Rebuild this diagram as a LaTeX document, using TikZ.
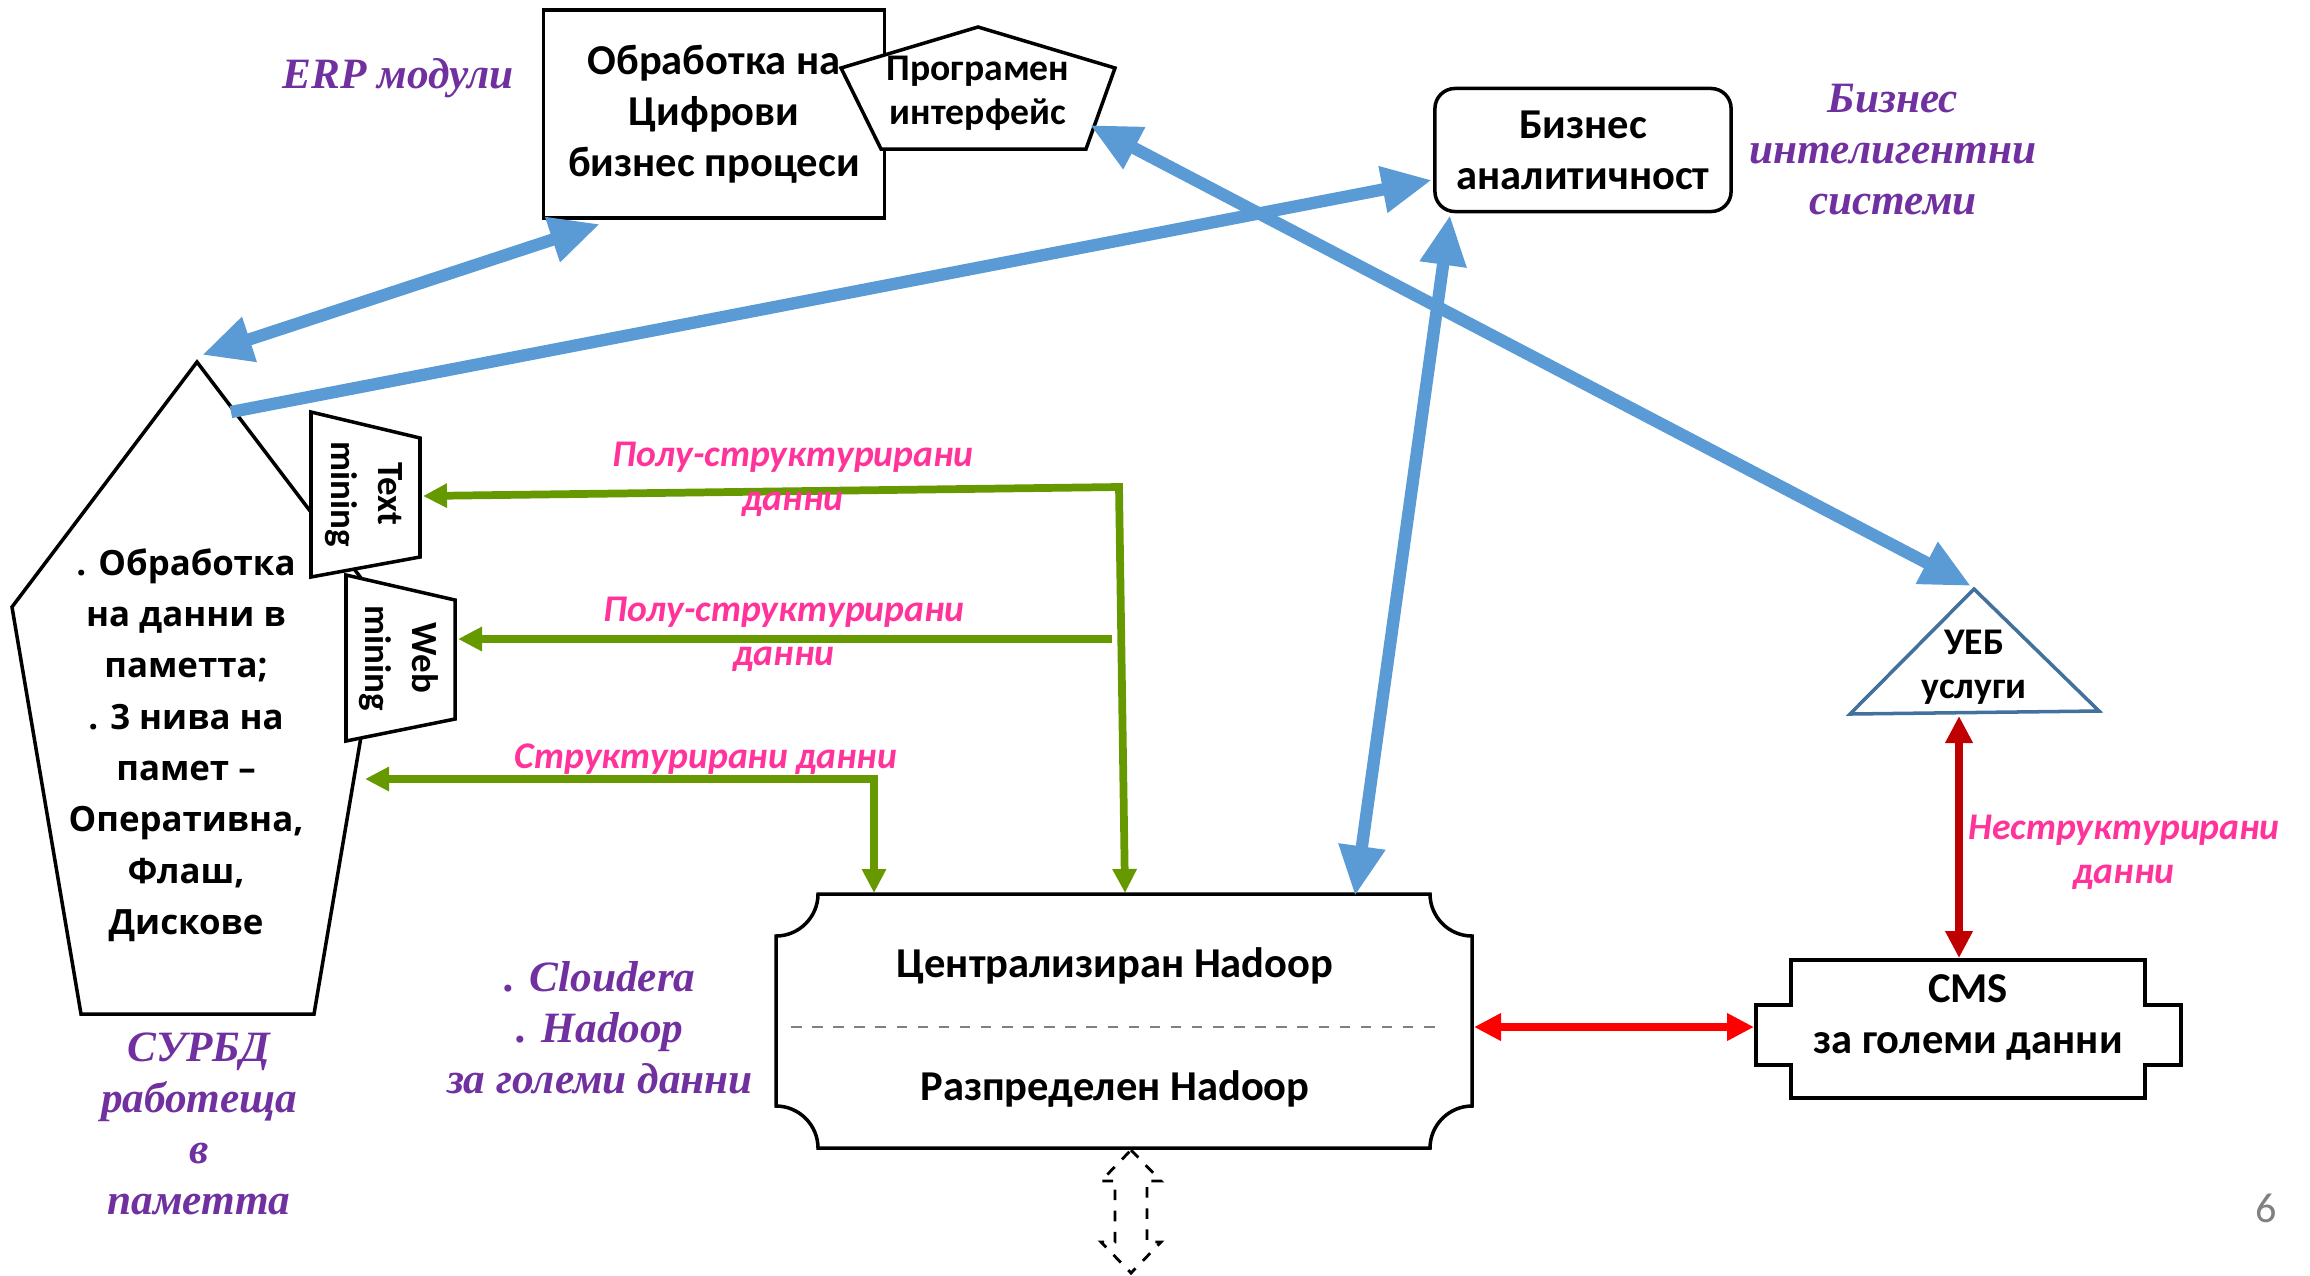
\documentclass[tikz,border=0pt]{standalone}
\usepackage{fontspec}
\setmainfont{Carlito}
\newfontfamily\romfont{Liberation Serif}
\newfontfamily\widefont{Open Sans}
\usetikzlibrary{arrows.meta}

\definecolor{bluearr}{RGB}{91,155,213}
\definecolor{greenarr}{RGB}{102,153,0}
\definecolor{pinktxt}{RGB}{255,51,153}
\definecolor{purpletxt}{RGB}{112,48,160}
\definecolor{darkred}{RGB}{192,0,0}
\definecolor{brightred}{RGB}{255,0,0}
\definecolor{triblue}{RGB}{65,113,156}

\tikzset{
  box/.style={draw, line width=1pt, fill=white, align=center, font=\bfseries\fontsize{12.1}{14.5}\selectfont},
  shapeline/.style={draw, line width=1pt, fill=white},
  boxtext/.style={align=center, font=\bfseries\fontsize{12.1}{14.5}\selectfont},
  purplenote/.style={text=purpletxt, align=center, font=\romfont\bfseries\itshape\fontsize{12.3}{14.5}\selectfont},
  pinknote/.style={text=pinktxt, align=center, font=\bfseries\itshape\fontsize{10.7}{12.5}\selectfont},
  bluearrow/.style={draw=bluearr, line width=3.5pt, arrows={-Triangle[length=5mm,width=4.4mm]}},
  blueboth/.style={bluearrow, arrows={Triangle[length=5mm,width=4.4mm]-Triangle[length=5mm,width=4.4mm]}},
  greenarrow/.style={draw=greenarr, line width=2.2pt, arrows={-Triangle[length=2.4mm,width=2.3mm]}},
  greenboth/.style={greenarrow, arrows={Triangle[length=2.4mm,width=2.3mm]-Triangle[length=2.4mm,width=2.3mm]}},
  redboth/.style={line width=2.3pt, arrows={Triangle[length=2.7mm,width=2.6mm]-Triangle[length=2.7mm,width=2.6mm]}}
}

\begin{document}
\begin{tikzpicture}[x=0.01cm,y=-0.01cm]
 \useasboundingbox (0,0) rectangle (2310,1275);

 % processing of business processes and API
 \node[box, minimum width=3.41cm, minimum height=2.08cm] (erp) at (714,114) {Обработка на\\Цифрови\\бизнес процеси};
 \draw[shapeline] (978,27) -- (1115,68) -- (1086,149) -- (881,149) -- (841,68) -- cycle;
 \node[boxtext, font=\bfseries\fontsize{10.7}{12.5}\selectfont] (api) at (978,93) {Програмен\\интерфейс};

 \node[box, rounded corners=0.2cm, minimum width=2.96cm, minimum height=1.23cm] (bia) at (1583,150) {Бизнес\\аналитичност};

 % in-memory DBMS
 \draw[shapeline] (197,362) -- (383,607) -- (314,1014) -- (81,1014) -- (12,607) -- cycle;
 \node[align=center, font=\widefont\bfseries\fontsize{9.9}{14.6}\selectfont] (srbd) at (186,745)
   {. Обработка\\на данни в\\паметта;\\. 3 нива на\\памет –\\Оперативна,\\Флаш,\\Дискове};
 \draw[shapeline] (311,412) -- (420,438) -- (420,557) -- (311,577) -- cycle;
 \node[boxtext, rotate=-90, font=\bfseries\fontsize{10.5}{13.4}\selectfont] (tm) at (364,494) {Text\\mining};
 \draw[shapeline] (346,575) -- (455,600) -- (455,719) -- (346,741) -- cycle;
 \node[boxtext, rotate=-90, font=\bfseries\fontsize{10.5}{13.4}\selectfont] (wm) at (399,658) {Web\\mining};

 % Hadoop
 \draw[shapeline] (818,894) -- (1430,894) .. controls (1430,917) and (1449,936) .. (1472,936)
   -- (1472,1106) .. controls (1449,1106) and (1430,1125) .. (1430,1148)
   -- (818,1148) .. controls (818,1125) and (799,1106) .. (776,1106)
   -- (776,936) .. controls (799,936) and (818,917) .. (818,894) -- cycle;
 \draw[gray, dashed, line width=0.6pt] (791,1027) -- (1436,1027);
 \node[boxtext] (hcentral) at (1115,966) {Централизиран Hadoop};
 \node[boxtext] (hdistrib) at (1115,1089) {Разпределен Hadoop};
 \draw[dashed, line width=0.8pt] (1131,1150) -- (1161,1181) -- (1147,1181) -- (1147,1242) -- (1161,1242)
   -- (1131,1273) -- (1101,1242) -- (1115,1242) -- (1115,1181) -- (1101,1181) -- cycle;

 % CMS and web services
 \draw[shapeline] (1791,960) -- (2145,960) -- (2145,1005) -- (2181,1005) -- (2181,1065) -- (2145,1065)
   -- (2145,1098) -- (1791,1098) -- (1791,1065) -- (1756,1065) -- (1756,1005) -- (1791,1005) -- cycle;
 \node[boxtext] (cms) at (1968,1017) {CMS\\за големи данни};
 \draw[triblue, line width=1pt, fill=white] (1974,589) -- (2099,711) -- (1850,714) -- cycle;
 \node[boxtext, font=\bfseries\fontsize{10.7}{12.5}\selectfont] (web) at (1974,667) {УЕБ\\услуги};

 % connector ends
 \coordinate (srbd-top) at (202,355);
 \coordinate (srbd-out) at (231,412);
 \coordinate (srbd-in) at (365,779);
 \coordinate (erp-in) at (600,224);
 \coordinate (api-in) at (1090,125);
 \coordinate (bia-in) at (1432,180);
 \coordinate (bia-b) at (1450,215);
 \coordinate (web-top) at (1971,586);
 \coordinate (web-b) at (1959,716);
 \coordinate (cms-t) at (1959,958);
 \coordinate (cms-l) at (1754,1027);
 \coordinate (h-r) at (1474,1027);
 \coordinate (h-b) at (1355,896);
 \coordinate (h-g1) at (874,893);
 \coordinate (h-g2) at (1125,893);
 \coordinate (tm-in) at (423,496);
 \coordinate (wm-in) at (458,639);
 \coordinate (g-c1) at (1119,487);
 \coordinate (g-s2) at (1112,639);
 \coordinate (g-c3) at (874,779);

 \draw[greenboth] (tm-in) -- (g-c1) -- (h-g2);
 \draw[greenarrow] (g-s2) -- (wm-in);
 \draw[greenboth] (srbd-in) -- (g-c3) -- (h-g1);

 \draw[blueboth] (srbd-top) -- (erp-in);
 \draw[bluearrow] (srbd-out) -- (bia-in);
 \draw[blueboth] (api-in) -- (web-top);
 \draw[blueboth] (h-b) -- (bia-b);

 \draw[redboth, brightred] (h-r) -- (cms-l);
 \draw[redboth, darkred] (web-b) -- (cms-t);

 % labels
 \node[pinknote] (semi1) at (793,479) {Полу-структурирани\\данни};
 \node[pinknote] (semi2) at (784,634) {Полу-структурирани\\данни};
 \node[pinknote] (struct) at (706,759) {Структурирани данни};
 \node[pinknote] (unstruct) at (2124,852) {Неструктурирани\\данни};

 \node[purplenote] (erpnote) at (398,78) {ERP модули};
 \node[purplenote] (binote) at (1893,150) {Бизнес\\интелигентни\\системи};
 \node[purplenote] (srbdnote) at (199,1124) {СУРБД\\работеща\\в\\паметта};
 \node[purplenote] (cloudera) at (600,1028) {. Cloudera\\. Hadoop\\за големи данни};

 \node[gray, font=\fontsize{12}{13}\selectfont] (pagenum) at (2266,1208) {6};
\end{tikzpicture}
\end{document}
